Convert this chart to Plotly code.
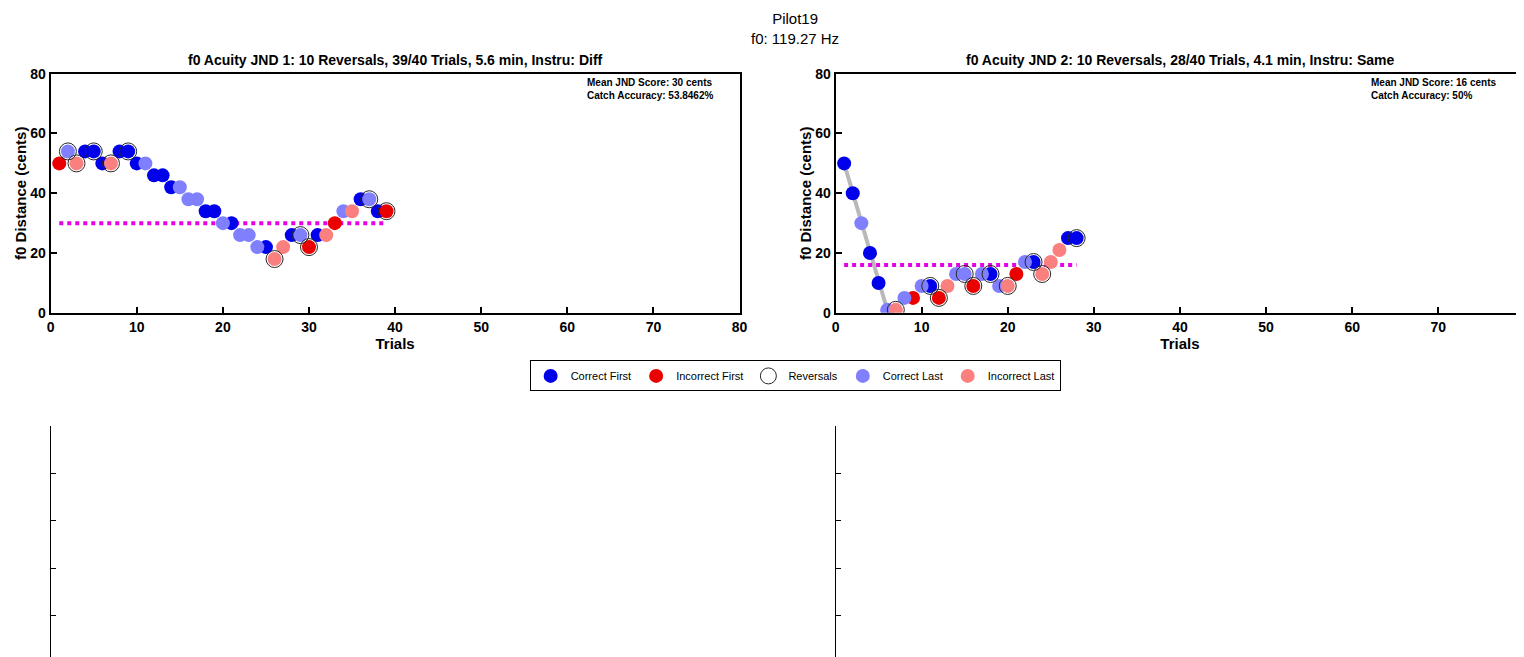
import plotly.graph_objects as go

# trial data: values in cents, response type codes
# CF = correct first, IF = incorrect first, CL = correct last, IL = incorrect last
jnd1_values = [50, 54, 50, 54, 54, 50, 50, 54, 54, 50, 50, 46, 46, 42, 42, 38, 38, 34, 34, 30,
               30, 26, 26, 22, 22, 18, 22, 26, 26, 22, 26, 26, 30, 34, 34, 38, 38, 34, 34]
jnd1_types = ['IF', 'CL', 'IL', 'CF', 'CF', 'CF', 'IL', 'CF', 'CF', 'CF', 'CL', 'CF', 'CF', 'CF', 'CL',
              'CL', 'CL', 'CF', 'CF', 'CL', 'CF', 'CL', 'CL', 'CL', 'CF', 'IL', 'IL', 'CF', 'CL', 'IF',
              'CF', 'IL', 'IF', 'CL', 'IL', 'CF', 'CL', 'CF', 'IF']
jnd1_reversals = [2, 3, 5, 7, 9, 26, 29, 30, 37, 39]
jnd1_mean = 30

jnd2_values = [50, 40, 30, 20, 10, 1, 1, 5, 5, 9, 9, 5, 9, 13, 13, 9, 13, 13, 9, 9,
               13, 17, 17, 13, 17, 21, 25, 25]
jnd2_types = ['CF', 'CF', 'CL', 'CF', 'CF', 'CL', 'IL', 'CL', 'IF', 'CL', 'CF', 'IF', 'IL', 'CL',
              'CL', 'IF', 'CL', 'CF', 'CL', 'IL', 'IF', 'CL', 'CF', 'IL', 'IL', 'IL', 'CF', 'CF']
jnd2_reversals = [7, 11, 12, 15, 16, 18, 20, 23, 24, 28]
jnd2_mean = 16

titles = ['f0 Acuity JND 1: 10 Reversals, 39/40 Trials, 5.6 min, Instru: Diff',
          'f0 Acuity JND 2: 10 Reversals, 28/40 Trials, 4.1 min, Instru: Same']
info = ['Mean JND Score: 30 cents<br>Catch Accuracy: 53.8462%',
        'Mean JND Score: 16 cents<br>Catch Accuracy: 50%']

type_names = {'CF': 'Correct First', 'IF': 'Incorrect First', 'CL': 'Correct Last', 'IL': 'Incorrect Last'}
type_colors = {'CF': 'rgb(0,0,235)', 'IF': 'rgb(235,0,0)', 'CL': 'rgb(128,128,255)', 'IL': 'rgb(250,128,128)'}
legend_order = ['CF', 'IF', 'REV', 'CL', 'IL']

fig = go.Figure()
datasets = [(jnd1_values, jnd1_types, jnd1_reversals, jnd1_mean),
            (jnd2_values, jnd2_types, jnd2_reversals, jnd2_mean)]
for i, (vals, types, revs, mean) in enumerate(datasets):
    xa = 'x' if i == 0 else 'x2'
    ya = 'y' if i == 0 else 'y2'
    trials = list(range(1, len(vals) + 1))
    # grey line up to first reversal
    n = revs[0]
    fig.add_trace(go.Scatter(x=trials[:n], y=vals[:n], mode='lines', xaxis=xa, yaxis=ya,
                             line=dict(color='rgb(185,185,185)', width=4), showlegend=False))
    fig.add_trace(go.Scatter(x=[1, len(vals)], y=[mean, mean], mode='lines', xaxis=xa, yaxis=ya,
                             line=dict(color='rgb(230,0,230)', width=4, dash='dot'), showlegend=False))
    for key in legend_order:
        if key == 'REV':
            fig.add_trace(go.Scatter(x=revs, y=[vals[r - 1] for r in revs], mode='markers',
                                     xaxis=xa, yaxis=ya, name='Reversals', showlegend=(i == 0),
                                     legendrank=3,
                                     marker=dict(size=17, color='rgba(255,255,255,0)',
                                                 line=dict(color='rgb(40,40,40)', width=1))))
            continue
        xs = [t for t, ty in zip(trials, types) if ty == key]
        ys = [v for v, ty in zip(vals, types) if ty == key]
        fig.add_trace(go.Scatter(x=xs, y=ys, mode='markers', xaxis=xa, yaxis=ya,
                                 name=type_names[key], showlegend=(i == 0),
                                 legendrank=legend_order.index(key) + 1,
                                 marker=dict(size=14, color=type_colors[key])))
# reversal circles drawn on top
fig.data = tuple(sorted(fig.data, key=lambda t: t.name == 'Reversals'))

bold = dict(family='Arial', size=15, color='black')
ax_common = dict(range=[0, 80], showline=True, linecolor='black', linewidth=2, mirror=True,
                 ticks='inside', ticklen=6, tickcolor='black', tickwidth=1.5, showgrid=False,
                 zeroline=False, automargin=False,
                 tickfont=dict(family='Arial', size=14, color='black', weight='bold'))
fig.update_layout(
    width=1524, height=657, margin=dict(l=0, r=0, t=0, b=0),
    plot_bgcolor='white', paper_bgcolor='white',
    xaxis=dict(domain=[0.028, 0.48], dtick=10, anchor='y',
               title=dict(text='<b>Trials</b>', font=bold, standoff=0), **ax_common),
    yaxis=dict(domain=[0.536, 0.9], dtick=20, anchor='x',
               title=dict(text='<b>f0 Distance (cents)</b>', font=bold, standoff=0), **ax_common),
    xaxis2=dict(domain=[0.543, 0.995], dtick=10, anchor='y2',
                title=dict(text='<b>Trials</b>', font=bold, standoff=0), **ax_common),
    yaxis2=dict(domain=[0.536, 0.9], dtick=20, anchor='x2',
                title=dict(text='<b>f0 Distance (cents)</b>', font=bold, standoff=0), **ax_common),
    legend=dict(orientation='h', x=0.5165, xanchor='center', y=0.44, yanchor='middle',
                bordercolor='black', borderwidth=1, font=dict(family='Arial', size=11, color='black'),
                itemwidth=30, traceorder='normal'),
)
for k, dom in [('3', [0.028, 0.48]), ('4', [0.543, 0.995])]:
    bottom_ax = dict(showline=True, linecolor='black', linewidth=1, ticks='inside', ticklen=5,
                     tickcolor='black', showticklabels=False, showgrid=False, zeroline=False,
                     automargin=False)
    fig.update_layout(**{
        'xaxis' + k: dict(domain=dom, range=[0, 80], dtick=10, anchor='y' + k, **bottom_ax),
        'yaxis' + k: dict(domain=[0.003, 0.364], range=[0, 1], dtick=0.2, anchor='x' + k, **bottom_ax),
    })
    fig.add_trace(go.Scatter(x=[None], y=[None], xaxis='x' + k, yaxis='y' + k, showlegend=False))

fig.add_annotation(text='Pilot19<br>f0: 119.27 Hz', x=0.5165, y=1.0, xref='paper', yref='paper',
                   xanchor='center', yanchor='top', showarrow=False,
                   font=dict(family='Arial', size=15, color='black'))
for i, xc in enumerate([0.254, 0.769]):
    fig.add_annotation(text='<b>' + titles[i] + '</b>', x=xc, y=0.905, xref='paper', yref='paper',
                       xanchor='center', yanchor='bottom', showarrow=False,
                       font=dict(family='Arial', size=14, color='black'))
for i, xa in enumerate(['x', 'x2']):
    fig.add_annotation(text='<b>' + info[i].replace('<br>', '</b><br><b>') + '</b>', x=62.0, y=79.5,
                       xref=xa, yref='y' if i == 0 else 'y2',
                       xanchor='left', yanchor='top', align='left', showarrow=False,
                       font=dict(family='Arial', size=10, color='black'))

fig.write_html("out.html")
